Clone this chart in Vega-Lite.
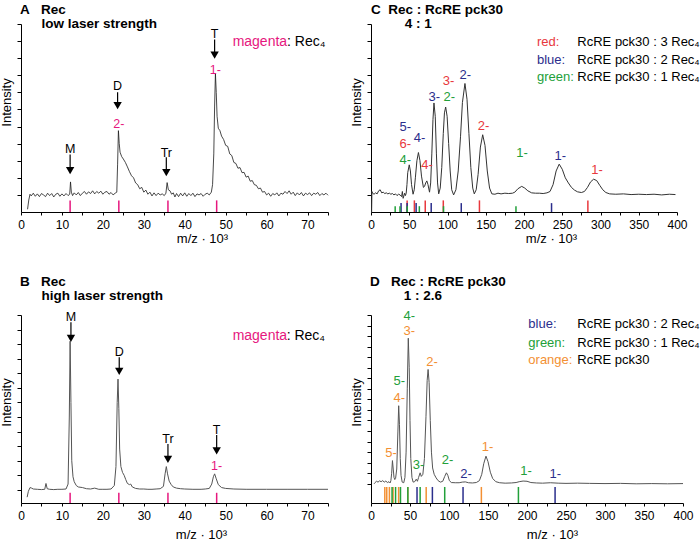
{
"$schema": "https://vega.github.io/schema/vega-lite/v6.json",
"background": "white",
"padding": {"left": 0, "top": 2, "right": 0, "bottom": 0},
"bounds": "flush",
"align": "each",
"columns": 2,
"spacing": {"row": 103, "column": 43},
"config": {
  "font": "Liberation Sans",
  "view": {"stroke": null},
  "axis": {"domainColor": "#000", "tickColor": "#000", "labelColor": "#000", "titleColor": "#000", "grid": false, "titleFontWeight": "normal", "labelFontSize": 12, "titleFontSize": 13, "domainWidth": 1, "tickWidth": 1, "labelFont": "Liberation Sans", "titleFont": "Liberation Sans"},
  "title": {"anchor": "start", "frame": "group", "fontSize": 13.5, "fontWeight": "bold", "font": "Liberation Sans", "lineHeight": 14, "color": "#000"},
  "text": {"font": "Liberation Sans"}
},
"datasets": {
  "specA": [
    {"x":1.6,"y":-0.42},{"x":1.9,"y":-0.15},{"x":2.2,"y":0.02},{"x":2.5,"y":-0.03},{"x":3.0,"y":0.05},{"x":3.5,"y":-0.04},{"x":4.0,"y":0.03},{"x":4.5,"y":-0.05},{"x":5.0,"y":0.04},{"x":5.5,"y":0.0},{"x":6.0,"y":-0.05},{"x":6.5,"y":0.05},{"x":7.0,"y":-0.02},{"x":7.5,"y":0.04},{"x":8.0,"y":-0.06},{"x":8.5,"y":0.02},{"x":9.0,"y":0.05},{"x":9.5,"y":-0.04},{"x":10.0,"y":0.03},{"x":10.5,"y":-0.03},{"x":11.0,"y":0.04},{"x":11.5,"y":-0.02},{"x":11.9,"y":0.02},{"x":12.1,"y":0.38},{"x":12.3,"y":0.08},{"x":12.6,"y":-0.02},{"x":13.0,"y":0.06},{"x":13.5,"y":0.0},{"x":14.0,"y":0.07},{"x":14.5,"y":-0.02},{"x":15.0,"y":0.05},{"x":15.5,"y":0.1},{"x":16.0,"y":0.02},{"x":16.5,"y":0.09},{"x":17.0,"y":0.04},{"x":17.5,"y":0.12},{"x":18.0,"y":0.03},{"x":18.5,"y":0.1},{"x":19.0,"y":0.05},{"x":19.5,"y":0.11},{"x":20.0,"y":0.02},{"x":20.5,"y":0.08},{"x":21.0,"y":0.1},{"x":21.5,"y":0.02},{"x":22.0,"y":0.07},{"x":22.5,"y":0.0},{"x":23.0,"y":0.05},{"x":23.4,"y":0.08},{"x":23.6,"y":0.9},{"x":23.8,"y":1.88},{"x":24.0,"y":1.5},{"x":24.2,"y":1.25},{"x":24.6,"y":1.12},{"x":25.0,"y":1.05},{"x":25.5,"y":0.95},{"x":26.0,"y":0.82},{"x":26.5,"y":0.68},{"x":27.0,"y":0.56},{"x":27.5,"y":0.5},{"x":28.0,"y":0.35},{"x":28.5,"y":0.3},{"x":29.0,"y":0.18},{"x":29.5,"y":0.22},{"x":30.0,"y":0.08},{"x":30.5,"y":0.14},{"x":31.0,"y":0.02},{"x":31.5,"y":0.08},{"x":32.0,"y":-0.03},{"x":32.5,"y":0.06},{"x":33.0,"y":-0.02},{"x":33.5,"y":0.05},{"x":34.0,"y":0.0},{"x":34.5,"y":0.03},{"x":35.0,"y":-0.02},{"x":35.4,"y":0.05},{"x":35.7,"y":0.36},{"x":36.0,"y":0.15},{"x":36.4,"y":0.12},{"x":36.8,"y":0.02},{"x":37.2,"y":0.06},{"x":37.6,"y":-0.06},{"x":38.0,"y":0.04},{"x":38.5,"y":-0.05},{"x":39.0,"y":0.05},{"x":39.5,"y":-0.03},{"x":40.0,"y":0.06},{"x":40.5,"y":-0.04},{"x":41.0,"y":0.04},{"x":41.5,"y":-0.02},{"x":42.0,"y":0.05},{"x":42.5,"y":-0.05},{"x":43.0,"y":0.03},{"x":43.5,"y":0.0},{"x":44.0,"y":0.04},{"x":44.5,"y":-0.04},{"x":45.0,"y":0.02},{"x":45.5,"y":0.05},{"x":46.0,"y":0.0},{"x":46.5,"y":0.08},{"x":46.8,"y":0.3},{"x":47.1,"y":1.2},{"x":47.3,"y":2.6},{"x":47.5,"y":3.55},{"x":47.7,"y":3.0},{"x":47.9,"y":2.3},{"x":48.2,"y":1.95},{"x":48.6,"y":1.88},{"x":49.0,"y":1.72},{"x":49.5,"y":1.62},{"x":50.0,"y":1.45},{"x":50.5,"y":1.42},{"x":51.0,"y":1.2},{"x":51.5,"y":1.15},{"x":52.0,"y":0.95},{"x":52.5,"y":0.92},{"x":53.0,"y":0.78},{"x":53.5,"y":0.8},{"x":54.0,"y":0.65},{"x":54.5,"y":0.66},{"x":55.0,"y":0.52},{"x":55.5,"y":0.55},{"x":56.0,"y":0.4},{"x":56.5,"y":0.42},{"x":57.0,"y":0.3},{"x":57.5,"y":0.28},{"x":58.0,"y":0.18},{"x":58.5,"y":0.2},{"x":59.0,"y":0.08},{"x":59.5,"y":0.1},{"x":60.0,"y":0.0},{"x":60.5,"y":0.05},{"x":61.0,"y":-0.04},{"x":61.5,"y":0.04},{"x":62.0,"y":0.0},{"x":62.5,"y":0.06},{"x":63.0,"y":-0.03},{"x":63.5,"y":0.05},{"x":64.0,"y":0.02},{"x":64.5,"y":0.1},{"x":65.0,"y":0.04},{"x":65.5,"y":0.12},{"x":66.0,"y":0.02},{"x":66.5,"y":0.08},{"x":67.0,"y":-0.02},{"x":67.5,"y":0.06},{"x":68.0,"y":0.0},{"x":68.5,"y":0.07},{"x":69.0,"y":-0.03},{"x":69.5,"y":0.05},{"x":70.0,"y":0.01},{"x":70.5,"y":0.06},{"x":71.0,"y":-0.02},{"x":71.5,"y":0.05},{"x":72.0,"y":0.02},{"x":72.5,"y":0.07},{"x":73.0,"y":-0.02},{"x":73.5,"y":0.04},{"x":74.0,"y":0.0},{"x":74.5,"y":0.05},{"x":75.0,"y":-0.01}
  ],
  "specB": [
    {"x":1.5,"y":-0.25},{"x":1.8,"y":-0.05},{"x":2.2,"y":0.08},{"x":2.6,"y":0.06},{"x":3.0,"y":0.03},{"x":4.0,"y":0.02},{"x":5.0,"y":0.01},{"x":5.8,"y":0.02},{"x":6.1,"y":0.22},{"x":6.4,"y":0.04},{"x":7.0,"y":0.02},{"x":8.0,"y":0.01},{"x":9.0,"y":0.02},{"x":10.0,"y":0.02},{"x":11.0,"y":0.03},{"x":11.5,"y":0.2},{"x":11.8,"y":2.5},{"x":12.0,"y":5.1},{"x":12.2,"y":3.0},{"x":12.4,"y":1.0},{"x":12.7,"y":0.45},{"x":13.0,"y":0.28},{"x":13.5,"y":0.15},{"x":14.0,"y":0.1},{"x":15.0,"y":0.08},{"x":16.0,"y":0.04},{"x":17.0,"y":0.03},{"x":18.0,"y":0.06},{"x":19.0,"y":0.02},{"x":20.0,"y":0.02},{"x":21.0,"y":0.02},{"x":22.0,"y":0.03},{"x":22.8,"y":0.15},{"x":23.2,"y":0.8},{"x":23.5,"y":3.0},{"x":23.7,"y":3.8},{"x":23.9,"y":2.8},{"x":24.1,"y":1.4},{"x":24.4,"y":0.8},{"x":24.8,"y":0.6},{"x":25.2,"y":0.5},{"x":25.6,"y":0.35},{"x":26.0,"y":0.22},{"x":26.5,"y":0.18},{"x":26.8,"y":0.2},{"x":27.2,"y":0.1},{"x":28.0,"y":0.05},{"x":29.0,"y":0.03},{"x":30.0,"y":0.03},{"x":31.0,"y":0.02},{"x":32.0,"y":0.02},{"x":33.0,"y":0.03},{"x":34.0,"y":0.04},{"x":34.8,"y":0.12},{"x":35.2,"y":0.55},{"x":35.5,"y":0.8},{"x":35.8,"y":0.55},{"x":36.2,"y":0.3},{"x":36.7,"y":0.18},{"x":37.2,"y":0.1},{"x":38.0,"y":0.06},{"x":39.0,"y":0.04},{"x":40.0,"y":0.03},{"x":42.0,"y":0.02},{"x":44.0,"y":0.02},{"x":45.0,"y":0.03},{"x":46.0,"y":0.05},{"x":46.6,"y":0.2},{"x":47.0,"y":0.45},{"x":47.3,"y":0.55},{"x":47.7,"y":0.38},{"x":48.2,"y":0.18},{"x":49.0,"y":0.08},{"x":50.0,"y":0.05},{"x":52.0,"y":0.03},{"x":55.0,"y":0.02},{"x":60.0,"y":0.02},{"x":65.0,"y":0.02},{"x":70.0,"y":0.02},{"x":75.0,"y":0.02}
  ],
  "specC": [
    {"x":0.8,"y":-0.5},{"x":1.2,"y":0.1},{"x":2,"y":0.05},{"x":4,"y":0.02},{"x":6,"y":0.06},{"x":8,"y":0.03},{"x":10,"y":0.12},{"x":12,"y":0.15},{"x":14,"y":0.06},{"x":16,"y":0.08},{"x":18,"y":0.04},{"x":20,"y":0.06},{"x":22,"y":0.03},{"x":24,"y":0.05},{"x":26,"y":0.02},{"x":28,"y":0.04},{"x":30,"y":0.0},{"x":32,"y":0.03},{"x":34,"y":-0.02},{"x":36,"y":0.02},{"x":38,"y":0.0},{"x":40,"y":-0.05},{"x":41,"y":0.1},{"x":42,"y":-0.1},{"x":44,"y":0.05},{"x":45,"y":-0.02},{"x":46,"y":0.05},{"x":47,"y":0.3},{"x":48,"y":0.65},{"x":50,"y":0.88},{"x":51.5,"y":0.7},{"x":53,"y":0.3},{"x":55,"y":0.02},{"x":56.5,"y":0.15},{"x":58,"y":0.5},{"x":60,"y":1.0},{"x":62,"y":1.24},{"x":64,"y":1.0},{"x":66,"y":0.55},{"x":68.5,"y":0.22},{"x":70,"y":0.25},{"x":71.5,"y":0.35},{"x":73,"y":0.41},{"x":74.5,"y":0.3},{"x":76.5,"y":0.08},{"x":78,"y":0.35},{"x":79.5,"y":1.2},{"x":81,"y":2.2},{"x":82.3,"y":2.69},{"x":84,"y":2.3},{"x":85.5,"y":1.2},{"x":87,"y":0.35},{"x":88.5,"y":0.03},{"x":90.5,"y":0.2},{"x":92.5,"y":0.8},{"x":94.5,"y":1.8},{"x":96,"y":2.4},{"x":97.6,"y":2.57},{"x":99.5,"y":2.3},{"x":101.5,"y":1.5},{"x":103.5,"y":0.7},{"x":105.5,"y":0.15},{"x":108,"y":0.0},{"x":111,"y":0.15},{"x":114,"y":0.7},{"x":117,"y":1.7},{"x":119.5,"y":2.7},{"x":122.8,"y":3.26},{"x":125.5,"y":2.8},{"x":128,"y":1.8},{"x":130.5,"y":0.8},{"x":133,"y":0.2},{"x":135,"y":0.03},{"x":137.5,"y":0.15},{"x":140,"y":0.6},{"x":143,"y":1.4},{"x":146,"y":1.76},{"x":149,"y":1.45},{"x":152,"y":0.7},{"x":155,"y":0.2},{"x":158,"y":0.03},{"x":162,"y":0.02},{"x":166,"y":0.05},{"x":170,"y":0.03},{"x":175,"y":0.05},{"x":180,"y":0.04},{"x":185,"y":0.05},{"x":188,"y":0.08},{"x":192,"y":0.18},{"x":197,"y":0.25},{"x":201,"y":0.2},{"x":205,"y":0.12},{"x":210,"y":0.06},{"x":215,"y":0.05},{"x":220,"y":0.05},{"x":225,"y":0.04},{"x":230,"y":0.06},{"x":234,"y":0.1},{"x":238,"y":0.3},{"x":242,"y":0.7},{"x":246,"y":0.9},{"x":250,"y":0.75},{"x":254,"y":0.5},{"x":258,"y":0.35},{"x":262,"y":0.22},{"x":266,"y":0.14},{"x":270,"y":0.09},{"x":275,"y":0.07},{"x":279,"y":0.1},{"x":283,"y":0.22},{"x":287,"y":0.38},{"x":291,"y":0.46},{"x":295,"y":0.42},{"x":299,"y":0.28},{"x":303,"y":0.15},{"x":307,"y":0.07},{"x":312,"y":0.03},{"x":320,"y":0.02},{"x":330,"y":0.03},{"x":340,"y":0.01},{"x":350,"y":0.02},{"x":360,"y":0.01},{"x":370,"y":0.02},{"x":380,"y":0.0},{"x":390,"y":0.02},{"x":398,"y":0.01}
  ],
  "specD": [
    {"x":4,"y":0.0},{"x":5,"y":0.05},{"x":7,"y":0.12},{"x":9,"y":0.08},{"x":11,"y":0.14},{"x":13,"y":0.1},{"x":15,"y":0.15},{"x":17,"y":0.08},{"x":19,"y":0.13},{"x":21,"y":0.06},{"x":23,"y":0.1},{"x":24.5,"y":0.04},{"x":25.5,"y":0.15},{"x":26.5,"y":0.5},{"x":27.5,"y":1.1},{"x":28.5,"y":0.7},{"x":29.5,"y":0.3},{"x":30.5,"y":0.2},{"x":31.5,"y":0.25},{"x":33,"y":0.7},{"x":34.5,"y":2.5},{"x":35.5,"y":3.7},{"x":36.5,"y":2.8},{"x":37.5,"y":1.2},{"x":38.5,"y":0.4},{"x":40,"y":0.08},{"x":42,"y":0.05},{"x":43.5,"y":0.3},{"x":45,"y":1.5},{"x":46.5,"y":4.5},{"x":47.8,"y":6.9},{"x":49,"y":5.5},{"x":50,"y":3.0},{"x":51,"y":1.2},{"x":52.5,"y":0.3},{"x":54,"y":0.08},{"x":56,"y":0.1},{"x":58,"y":0.22},{"x":59.5,"y":0.12},{"x":61,"y":0.3},{"x":63,"y":0.52},{"x":64.5,"y":0.35},{"x":66.5,"y":0.45},{"x":68.5,"y":1.2},{"x":70.5,"y":3.2},{"x":72,"y":4.9},{"x":73.2,"y":5.42},{"x":74.5,"y":4.8},{"x":76,"y":3.0},{"x":77.5,"y":1.5},{"x":79,"y":0.75},{"x":81,"y":0.45},{"x":83.5,"y":0.28},{"x":86,"y":0.15},{"x":89,"y":0.08},{"x":92,"y":0.12},{"x":94.5,"y":0.35},{"x":96.7,"y":0.52},{"x":98.5,"y":0.4},{"x":100.5,"y":0.15},{"x":103,"y":0.06},{"x":108,"y":0.05},{"x":113,"y":0.05},{"x":117,"y":0.08},{"x":121,"y":0.09},{"x":125,"y":0.05},{"x":130,"y":0.04},{"x":135,"y":0.06},{"x":139,"y":0.15},{"x":142,"y":0.45},{"x":144.5,"y":0.95},{"x":147.4,"y":1.31},{"x":150,"y":1.05},{"x":153,"y":0.55},{"x":156,"y":0.25},{"x":160,"y":0.1},{"x":165,"y":0.05},{"x":172,"y":0.03},{"x":180,"y":0.04},{"x":186,"y":0.06},{"x":190,"y":0.1},{"x":195,"y":0.13},{"x":200,"y":0.12},{"x":205,"y":0.06},{"x":212,"y":0.04},{"x":220,"y":0.03},{"x":230,"y":0.05},{"x":240,"y":0.03},{"x":250,"y":0.02},{"x":265,"y":0.03},{"x":280,"y":0.02},{"x":300,"y":0.01},{"x":320,"y":0.02},{"x":340,"y":0.0},{"x":360,"y":0.01},{"x":380,"y":0.0},{"x":400,"y":0.01}
  ],
  "stickA": [
    {"x":12.0,"y":-0.5,"y2":-0.16,"c":"#e6177e"},{"x":23.9,"y":-0.5,"y2":-0.16,"c":"#e6177e"},{"x":35.9,"y":-0.5,"y2":-0.16,"c":"#e6177e"},{"x":47.8,"y":-0.5,"y2":-0.16,"c":"#e6177e"}
  ],
  "stickB": [
    {"x":12.0,"y":-0.45,"y2":-0.1,"c":"#e6177e"},{"x":23.9,"y":-0.45,"y2":-0.1,"c":"#e6177e"},{"x":35.9,"y":-0.45,"y2":-0.1,"c":"#e6177e"},{"x":47.8,"y":-0.45,"y2":-0.1,"c":"#e6177e"}
  ],
  "stickC": [
    {"x":47.25,"y":-0.5,"y2":-0.16,"c":"#e8383d"},{"x":56.7,"y":-0.5,"y2":-0.16,"c":"#e8383d"},{"x":70.9,"y":-0.5,"y2":-0.16,"c":"#e8383d"},{"x":94.5,"y":-0.5,"y2":-0.16,"c":"#e8383d"},{"x":141.75,"y":-0.5,"y2":-0.16,"c":"#e8383d"},{"x":283.5,"y":-0.5,"y2":-0.16,"c":"#e8383d"},
    {"x":39.3,"y":-0.5,"y2":-0.24,"c":"#2b2e8c"},{"x":47.2,"y":-0.5,"y2":-0.24,"c":"#2b2e8c"},{"x":59.0,"y":-0.5,"y2":-0.24,"c":"#2b2e8c"},{"x":78.7,"y":-0.5,"y2":-0.24,"c":"#2b2e8c"},{"x":118.0,"y":-0.5,"y2":-0.24,"c":"#2b2e8c"},{"x":236.0,"y":-0.5,"y2":-0.24,"c":"#2b2e8c"},
    {"x":31.6,"y":-0.5,"y2":-0.33,"c":"#22a03a"},{"x":37.9,"y":-0.5,"y2":-0.33,"c":"#22a03a"},{"x":47.4,"y":-0.5,"y2":-0.33,"c":"#22a03a"},{"x":63.2,"y":-0.5,"y2":-0.33,"c":"#22a03a"},{"x":94.8,"y":-0.5,"y2":-0.33,"c":"#22a03a"},{"x":189.5,"y":-0.5,"y2":-0.33,"c":"#22a03a"}
  ],
  "stickD": [
    {"x":17.7,"y":-0.91,"y2":-0.15,"c":"#f39033"},{"x":20.2,"y":-0.91,"y2":-0.15,"c":"#f39033"},{"x":23.6,"y":-0.91,"y2":-0.15,"c":"#f39033"},{"x":28.3,"y":-0.91,"y2":-0.15,"c":"#f39033"},{"x":35.4,"y":-0.91,"y2":-0.15,"c":"#f39033"},{"x":47.2,"y":-0.91,"y2":-0.15,"c":"#f39033"},{"x":70.75,"y":-0.91,"y2":-0.15,"c":"#f39033"},{"x":141.5,"y":-0.91,"y2":-0.15,"c":"#f39033"},
    {"x":27.0,"y":-0.91,"y2":-0.15,"c":"#22a03a"},{"x":31.5,"y":-0.91,"y2":-0.15,"c":"#22a03a"},{"x":37.8,"y":-0.91,"y2":-0.15,"c":"#22a03a"},{"x":47.25,"y":-0.91,"y2":-0.15,"c":"#22a03a"},{"x":63.0,"y":-0.91,"y2":-0.15,"c":"#22a03a"},{"x":94.5,"y":-0.91,"y2":-0.15,"c":"#22a03a"},{"x":189.0,"y":-0.91,"y2":-0.15,"c":"#22a03a"},
    {"x":59.0,"y":-0.91,"y2":-0.15,"c":"#2b2e8c"},{"x":78.7,"y":-0.91,"y2":-0.15,"c":"#2b2e8c"},{"x":118.0,"y":-0.91,"y2":-0.15,"c":"#2b2e8c"},{"x":236.0,"y":-0.91,"y2":-0.15,"c":"#2b2e8c"}
  ],
  "arrA": [
    {"x":12.0,"y":1.18,"y2":0.71},{"x":23.6,"y":3.0,"y2":2.61},{"x":35.5,"y":1.1,"y2":0.65},{"x":47.3,"y":4.55,"y2":4.09}
  ],
  "triA": [
    {"x":12.0,"y":0.71},{"x":23.6,"y":2.61},{"x":35.5,"y":0.65},{"x":47.3,"y":4.09}
  ],
  "arrB": [
    {"x":12.2,"y":5.75,"y2":5.2},{"x":24.0,"y":4.55,"y2":4.07},{"x":35.9,"y":1.57,"y2":1.05},{"x":47.8,"y":1.88,"y2":1.34}
  ],
  "triB": [
    {"x":12.2,"y":5.2},{"x":24.0,"y":4.07},{"x":35.9,"y":1.05},{"x":47.8,"y":1.34}
  ],
  "labA": [
    {"x":12.0,"y":1.33,"t":"M","c":"#000"},{"x":23.6,"y":3.19,"t":"D","c":"#000"},{"x":35.5,"y":1.24,"t":"Tr","c":"#000"},{"x":47.3,"y":4.71,"t":"T","c":"#000"},{"x":23.9,"y":2.06,"t":"2-","c":"#e6177e"},{"x":47.5,"y":3.65,"t":"1-","c":"#e6177e"}
  ],
  "labB": [
    {"x":12.2,"y":5.94,"t":"M","c":"#000"},{"x":24.0,"y":4.74,"t":"D","c":"#000"},{"x":35.9,"y":1.76,"t":"Tr","c":"#000"},{"x":47.8,"y":2.05,"t":"T","c":"#000"},{"x":47.8,"y":0.83,"t":"1-","c":"#e6177e"}
  ],
  "labC": [
    {"x":44.8,"y":1.98,"t":"5-","c":"#2b2e8c"},{"x":44.8,"y":1.49,"t":"6-","c":"#e8383d"},{"x":44.8,"y":1.02,"t":"4-","c":"#22a03a"},{"x":63.6,"y":1.66,"t":"4-","c":"#2b2e8c"},{"x":73.2,"y":0.88,"t":"4-","c":"#e8383d"},{"x":82.7,"y":2.86,"t":"3-","c":"#2b2e8c"},{"x":102.4,"y":2.86,"t":"2-","c":"#22a03a"},{"x":101.5,"y":3.33,"t":"3-","c":"#e8383d"},{"x":123.3,"y":3.52,"t":"2-","c":"#2b2e8c"},{"x":147.2,"y":2.03,"t":"2-","c":"#e8383d"},{"x":197.4,"y":1.24,"t":"1-","c":"#22a03a"},{"x":247.5,"y":1.15,"t":"1-","c":"#2b2e8c"},{"x":295.4,"y":0.73,"t":"1-","c":"#e8383d"}
  ],
  "labD": [
    {"x":49.1,"y":7.95,"t":"4-","c":"#22a03a"},{"x":49.1,"y":7.24,"t":"3-","c":"#f39033"},{"x":36.3,"y":4.87,"t":"5-","c":"#22a03a"},{"x":36.3,"y":4.08,"t":"4-","c":"#f39033"},{"x":25.6,"y":1.47,"t":"5-","c":"#f39033"},{"x":61.0,"y":0.89,"t":"3-","c":"#22a03a"},{"x":78.2,"y":5.77,"t":"2-","c":"#f39033"},{"x":98.2,"y":1.11,"t":"2-","c":"#22a03a"},{"x":121.8,"y":0.47,"t":"2-","c":"#2b2e8c"},{"x":149.5,"y":1.75,"t":"1-","c":"#f39033"},{"x":198.7,"y":0.6,"t":"1-","c":"#22a03a"},{"x":236.3,"y":0.47,"t":"1-","c":"#2b2e8c"}
  ],
  "legA": [
    {"x":51.7,"y":4.46,"t":"magenta","c":"#e6177e"},{"x":65.0,"y":4.46,"t":": Rec₄","c":"#000"}
  ],
  "legB": [
    {"x":51.7,"y":5.29,"t":"magenta","c":"#e6177e"},{"x":64.9,"y":5.29,"t":": Rec₄","c":"#000"}
  ],
  "legC": [
    {"x":217,"y":4.48,"t":"red:","c":"#e8383d"},{"x":269.7,"y":4.48,"t":"RcRE pck30 : 3 Rec₄","c":"#000"},
    {"x":217,"y":3.96,"t":"blue:","c":"#2b2e8c"},{"x":269.7,"y":3.96,"t":"RcRE pck30 : 2 Rec₄","c":"#000"},
    {"x":217,"y":3.45,"t":"green:","c":"#22a03a"},{"x":269.7,"y":3.45,"t":"RcRE pck30 : 1 Rec₄","c":"#000"}
  ],
  "legD": [
    {"x":201.7,"y":7.55,"t":"blue:","c":"#2b2e8c"},{"x":264.5,"y":7.55,"t":"RcRE pck30 : 2 Rec₄","c":"#000"},
    {"x":201.7,"y":6.68,"t":"green:","c":"#22a03a"},{"x":264.5,"y":6.68,"t":"RcRE pck30 : 1 Rec₄","c":"#000"},
    {"x":201.7,"y":5.85,"t":"orange:","c":"#f39033"},{"x":264.5,"y":5.85,"t":"RcRE pck30","c":"#000"}
  ]
},
"concat": [
    {
      "width": 307, "height": 188,
      "title": {"text": ["A\u00a0\u00a0\u00a0Rec", "\u200b\u00a0\u00a0\u00a0\u00a0\u00a0\u2009low laser strength"], "offset": -6.5, "dx": -1},
      "encoding": {
        "x": {"field": "x", "type": "quantitative", "scale": {"domain": [0, 75], "nice": false, "zero": false},
              "axis": {"title": "m/z · 10³", "values": [0,5,10,15,20,25,30,35,40,45,50,55,60,65,70,75], "labelExpr": "datum.value % 10 === 0 ? datum.label : ''", "tickSize": 3, "labelPadding": 13, "labelBaseline": "alphabetic", "labelOverlap": false, "labelFlush": false, "titleX": 181, "titleY": 30, "titleBaseline": "alphabetic"}},
        "y": {"field": "y", "type": "quantitative", "scale": {"domain": [-0.5, 5], "nice": false, "zero": false},
              "axis": {"title": "Intensity", "labels": false, "values": [0,0.5,1,1.5,2,2.5,3,3.5,4,4.5,5], "tickSize": 4, "titleY": 78, "titlePadding": 3}}
      },
      "layer": [
        {"data": {"name": "specA"}, "mark": {"type": "line", "color": "#1a1a1a", "strokeWidth": 0.8}},
        {"data": {"name": "stickA"}, "mark": {"type": "rule", "strokeWidth": 1.5}, "encoding": {"y2": {"field": "y2"}, "color": {"field": "c", "type": "nominal", "scale": null}}},
        {"data": {"name": "arrA"}, "mark": {"type": "rule", "strokeWidth": 1.2, "color": "#000"}, "encoding": {"y2": {"field": "y2"}}},
        {"data": {"name": "triA"}, "mark": {"type": "point", "shape": "triangle-down", "filled": true, "color": "#000", "opacity": 1, "size": 70}},
        {"data": {"name": "labA"}, "mark": {"type": "text", "fontSize": 12.5, "baseline": "middle", "align": "center"}, "encoding": {"text": {"field": "t"}, "color": {"field": "c", "type": "nominal", "scale": null}}},
        {"data": {"name": "legA"}, "mark": {"type": "text", "fontSize": 14, "baseline": "middle", "align": "left"}, "encoding": {"text": {"field": "t"}, "color": {"field": "c", "type": "nominal", "scale": null}}}
      ]
    },
    {
      "width": 306, "height": 188,
      "title": {"text": ["C\u00a0\u00a0Rec : RcRE pck30", "\u200b\u00a0\u00a0\u00a0\u00a0\u00a0\u00a0\u00a0\u00a0\u00a04 : 1"], "offset": -6.5, "dx": 0},
      "encoding": {
        "x": {"field": "x", "type": "quantitative", "scale": {"domain": [0, 400], "nice": false, "zero": false},
              "axis": {"title": "m/z · 10³", "values": [0,25,50,75,100,125,150,175,200,225,250,275,300,325,350,375,400], "labelExpr": "datum.value % 50 === 0 ? datum.label : ''", "tickSize": 3, "labelPadding": 13, "labelBaseline": "alphabetic", "labelOverlap": false, "labelFlush": false, "titleX": 180, "titleY": 30, "titleBaseline": "alphabetic"}},
        "y": {"field": "y", "type": "quantitative", "scale": {"domain": [-0.5, 5], "nice": false, "zero": false},
              "axis": {"title": "Intensity", "labels": false, "values": [0,0.5,1,1.5,2,2.5,3,3.5,4,4.5,5], "tickSize": 4, "titleY": 78, "titlePadding": 3}}
      },
      "layer": [
        {"data": {"name": "specC"}, "mark": {"type": "line", "color": "#333", "strokeWidth": 1}},
        {"data": {"name": "stickC"}, "mark": {"type": "rule", "strokeWidth": 1.5}, "encoding": {"y2": {"field": "y2"}, "color": {"field": "c", "type": "nominal", "scale": null}}},
        {"data": {"name": "labC"}, "mark": {"type": "text", "fontSize": 13, "baseline": "middle", "align": "center"}, "encoding": {"text": {"field": "t"}, "color": {"field": "c", "type": "nominal", "scale": null}}},
        {"data": {"name": "legC"}, "mark": {"type": "text", "fontSize": 13, "baseline": "middle", "align": "left"}, "encoding": {"text": {"field": "t"}, "color": {"field": "c", "type": "nominal", "scale": null}}}
      ]
    },
    {
      "width": 307, "height": 188,
      "title": {"text": ["B\u00a0\u00a0\u00a0Rec", "\u200b\u00a0\u00a0\u00a0\u00a0\u00a0\u2009high laser strength"], "offset": 8, "dx": -1},
      "encoding": {
        "x": {"field": "x", "type": "quantitative", "scale": {"domain": [0, 75], "nice": false, "zero": false},
              "axis": {"title": "m/z · 10³", "values": [0,5,10,15,20,25,30,35,40,45,50,55,60,65,70,75], "labelExpr": "datum.value % 10 === 0 ? datum.label : ''", "tickSize": 3, "labelPadding": 13, "labelBaseline": "alphabetic", "labelOverlap": false, "labelFlush": false, "titleX": 180, "titleY": 35, "titleBaseline": "alphabetic"}},
        "y": {"field": "y", "type": "quantitative", "scale": {"domain": [-0.45, 6], "nice": false, "zero": false},
              "axis": {"title": "Intensity", "labels": false, "values": [0,0.5,1,1.5,2,2.5,3,3.5,4,4.5,5,5.5,6], "tickSize": 4, "titleY": 87, "titlePadding": 3}}
      },
      "layer": [
        {"data": {"name": "specB"}, "mark": {"type": "line", "color": "#555", "strokeWidth": 1}},
        {"data": {"name": "stickB"}, "mark": {"type": "rule", "strokeWidth": 1.5}, "encoding": {"y2": {"field": "y2"}, "color": {"field": "c", "type": "nominal", "scale": null}}},
        {"data": {"name": "arrB"}, "mark": {"type": "rule", "strokeWidth": 1.2, "color": "#000"}, "encoding": {"y2": {"field": "y2"}}},
        {"data": {"name": "triB"}, "mark": {"type": "point", "shape": "triangle-down", "filled": true, "color": "#000", "opacity": 1, "size": 70}},
        {"data": {"name": "labB"}, "mark": {"type": "text", "fontSize": 12.5, "baseline": "middle", "align": "center"}, "encoding": {"text": {"field": "t"}, "color": {"field": "c", "type": "nominal", "scale": null}}},
        {"data": {"name": "legB"}, "mark": {"type": "text", "fontSize": 14, "baseline": "middle", "align": "left"}, "encoding": {"text": {"field": "t"}, "color": {"field": "c", "type": "nominal", "scale": null}}}
      ]
    },
    {
      "width": 312, "height": 188,
      "title": {"text": ["D\u00a0\u00a0\u00a0Rec : RcRE pck30", "\u200b\u00a0\u00a0\u00a0\u00a0\u00a0\u00a0\u00a0\u00a0\u00a01 : 2.6"], "offset": 8, "dx": -1},
      "encoding": {
        "x": {"field": "x", "type": "quantitative", "scale": {"domain": [0, 400], "nice": false, "zero": false},
              "axis": {"title": "m/z · 10³", "values": [0,25,50,75,100,125,150,175,200,225,250,275,300,325,350,375,400], "labelExpr": "datum.value % 50 === 0 ? datum.label : ''", "tickSize": 3, "labelPadding": 13, "labelBaseline": "alphabetic", "labelOverlap": false, "labelFlush": false, "titleX": 181, "titleY": 35, "titleBaseline": "alphabetic"}},
        "y": {"field": "y", "type": "quantitative", "scale": {"domain": [-0.91, 8], "nice": false, "zero": false},
              "axis": {"title": "Intensity", "labels": false, "values": [0,0.5,1,1.5,2,2.5,3,3.5,4,4.5,5,5.5,6,6.5,7,7.5,8], "tickSize": 4, "titleY": 87, "titlePadding": 3}}
      },
      "layer": [
        {"data": {"name": "specD"}, "mark": {"type": "line", "color": "#555", "strokeWidth": 1}},
        {"data": {"name": "stickD"}, "mark": {"type": "rule", "strokeWidth": 1.5}, "encoding": {"y2": {"field": "y2"}, "color": {"field": "c", "type": "nominal", "scale": null}}},
        {"data": {"name": "labD"}, "mark": {"type": "text", "fontSize": 13, "baseline": "middle", "align": "center"}, "encoding": {"text": {"field": "t"}, "color": {"field": "c", "type": "nominal", "scale": null}}},
        {"data": {"name": "legD"}, "mark": {"type": "text", "fontSize": 13, "baseline": "middle", "align": "left"}, "encoding": {"text": {"field": "t"}, "color": {"field": "c", "type": "nominal", "scale": null}}}
      ]
    }
]
}
